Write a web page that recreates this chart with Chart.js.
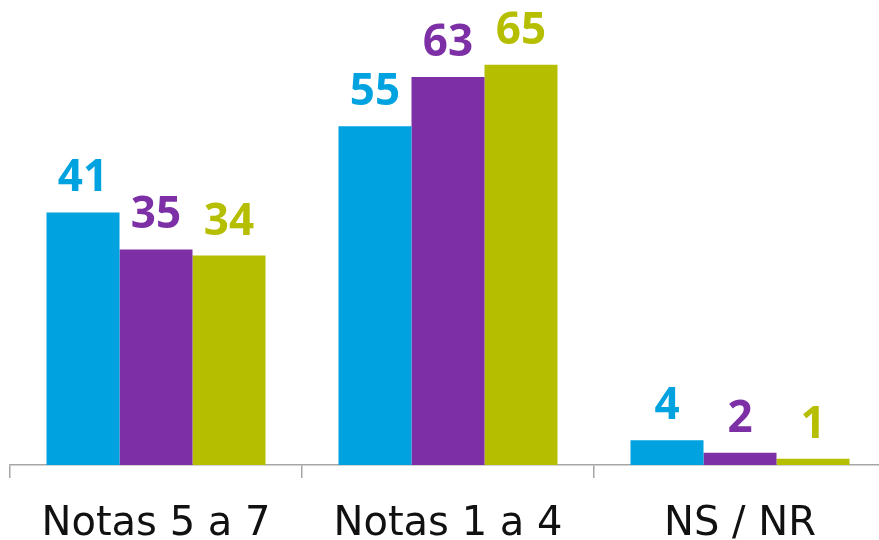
<!DOCTYPE html>
<html><head><meta charset="utf-8">
<script src="https://cdn.jsdelivr.net/npm/chart.js@4"></script>
<style>html,body{margin:0;padding:0;background:#fff;overflow:hidden;width:879px;height:540px}
#c{position:absolute;left:0;top:0}</style>
</head><body>
<canvas id="c" width="886" height="572" style="width:886px;height:572px"></canvas>
<script>
const categories = ["Notas 5 a 7", "Notas 1 a 4", "NS / NR"];
const seriesA = [41, 55, 4];
const seriesB = [35, 63, 2];
const seriesC = [34, 65, 1];
const colors = ["#00A2DF", "#7D30A5", "#B6BE00"];

const labelPlugin = {
  id: 'vlabels',
  afterDatasetsDraw(chart) {
    const ctx = chart.ctx;
    ctx.save();
    ctx.font = '700 44px "Open Sans"';
    ctx.textAlign = 'center';
    ctx.textBaseline = 'alphabetic';
    chart.data.datasets.forEach((ds, i) => {
      chart.getDatasetMeta(i).data.forEach((bar, j) => {
        ctx.fillStyle = ds.backgroundColor;
        ctx.fillText(String(ds.data[j]), bar.x, bar.y - 21);
      });
    });
    ctx.restore();
  }
};

new Chart(document.getElementById('c'), {
  type: 'bar',
  data: {
    labels: categories,
    datasets: [
      {data: seriesA, backgroundColor: colors[0]},
      {data: seriesB, backgroundColor: colors[1]},
      {data: seriesC, backgroundColor: colors[2]}
    ]
  },
  options: {
    responsive: false, maintainAspectRatio: false, animation: false, devicePixelRatio: 1,
    layout: {padding: {left: 10, right: 0, top: 0, bottom: 0}},
    datasets: {bar: {categoryPercentage: 0.75, barPercentage: 1.0}},
    plugins: {legend: {display: false}, tooltip: {enabled: false}},
    scales: {
      x: {
        offset: true,
        grid: {offset: true, drawOnChartArea: false, drawTicks: true, tickLength: 13, color: '#A6A6A6', lineWidth: 1.5},
        border: {display: true, color: '#A6A6A6', width: 1.5},
        ticks: {color: '#111', font: {family: 'DejaVu Sans', size: 40}, padding: 23}
      },
      y: {display: false, min: 0, max: 75.5}
    }
  },
  plugins: [labelPlugin]
});
</script>
</body></html>
